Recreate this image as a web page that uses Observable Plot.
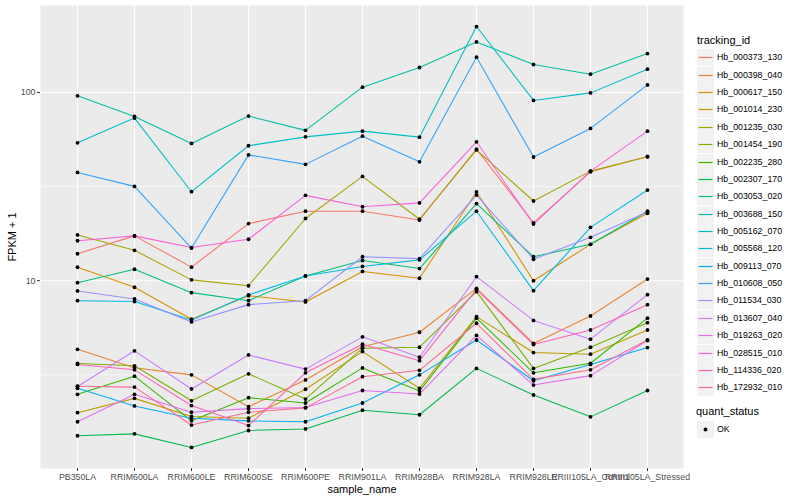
<!DOCTYPE html>
<html>
<head>
<meta charset="utf-8">
<script src="https://cdn.jsdelivr.net/npm/d3@7"></script>
<script src="https://cdn.jsdelivr.net/npm/@observablehq/plot@0.6"></script>
<style>
  body { margin: 0; background: #fff; font-family: "Liberation Sans", Arial, sans-serif; }
  #wrap { position: relative; width: 800px; height: 500px; }
  .lg { position: absolute; white-space: nowrap; color: #000; }
  .lgt { font-size: 11px; }
  .lgl { font-size: 8.8px; }
  .key { position: absolute; width: 17px; height: 17px; display: block; }
</style>
</head>
<body>
<div id="wrap"></div>
<script>
// ---- categories ----
const samples = ["PB350LA", "RRIM600LA", "RRIM600LE", "RRIM600SE", "RRIM600PE", "RRIM901LA",
  "RRIM928BA", "RRIM928LA", "RRIM928LE", "RRIII105LA_Control", "RRIII105LA_Stressed"];
const trackingIds = ["Hb_000373_130", "Hb_000398_040", "Hb_000617_150", "Hb_001014_230", "Hb_001235_030",
  "Hb_001454_190", "Hb_002235_280", "Hb_002307_170", "Hb_003053_020", "Hb_003688_150",
  "Hb_005162_070", "Hb_005568_120", "Hb_009113_070", "Hb_010608_050", "Hb_011534_030",
  "Hb_013607_040", "Hb_019263_020", "Hb_028515_010", "Hb_114336_020", "Hb_172932_010"];
const seriesColors = ["#F8766D", "#EA8331", "#D89000", "#C09B00", "#A3A500", "#7CAE00", "#39B600", "#00BB4E",
  "#00BF7D", "#00C1A3", "#00BFC4", "#00BAE0", "#00B0F6", "#35A2FF", "#9590FF", "#C77CFF", "#E76BF3",
  "#FA62DB", "#FF62BC", "#FF6C91"];
const quantStatus = ["OK"];
const yTicks = [10, 100];

// ---- FPKM + 1 values per tracking_id (in sample order) ----
const hb000373_130 = [13.9, 17.3, 11.8, 20.1, 23.4, 23.4, 21.0, 50.0, 20.3, 37.9, 45.7];
const hb000398_040 = [4.32, 3.45, 3.16, 2.14, 2.97, 4.46, 5.32, 9.11, 4.64, 6.49, 10.2];
const hb000617_150 = [11.8, 9.23, 6.24, 8.32, 7.71, 11.2, 10.3, 29.6, 10.0, 15.6, 22.8];
const hb001014_230 = [1.99, 2.37, 1.90, 1.86, 2.65, 4.20, 2.68, 6.44, 4.15, 4.07, 5.47];
const hb001235_030 = [17.5, 14.5, 10.1, 9.4, 21.4, 35.8, 21.2, 49.5, 26.5, 38.2, 45.5];
const hb001454_190 = [3.63, 3.53, 2.30, 3.20, 2.35, 4.38, 4.43, 8.74, 3.42, 4.43, 5.98];
const hb002235_280 = [2.49, 3.11, 1.80, 2.39, 2.24, 3.44, 2.59, 6.32, 3.24, 3.64, 6.32];
const hb002307_170 = [1.50, 1.535, 1.30, 1.60, 1.63, 2.05, 1.94, 3.42, 2.47, 1.89, 2.61];
const hb003053_020 = [9.76, 11.5, 8.64, 7.83, 10.6, 12.8, 11.6, 25.7, 13.4, 15.6, 23.4];
const hb003688_150 = [96.0, 74.6, 53.6, 74.9, 62.9, 106.7, 135.7, 185.6, 140.8, 125.1, 161.0];
const hb005162_070 = [54.0, 73.1, 29.7, 52.1, 58.1, 62.3, 57.9, 224.0, 90.7, 99.5, 133.0];
const hb005568_120 = [7.83, 7.75, 6.19, 8.40, 10.6, 11.9, 12.9, 23.4, 8.85, 19.2, 30.3];
const hb009113_070 = [2.68, 2.16, 1.86, 1.80, 1.78, 2.24, 3.16, 4.84, 2.94, 3.59, 4.41];
const hb010608_050 = [37.6, 31.7, 14.9, 46.6, 41.5, 58.6, 42.8, 154.0, 45.4, 64.4, 109.7];
const hb011534_030 = [8.82, 8.00, 6.04, 7.46, 7.83, 13.4, 13.1, 28.5, 13.0, 17.0, 23.2];
const hb013607_040 = [2.74, 4.24, 2.66, 4.03, 3.39, 5.03, 3.92, 10.5, 6.15, 4.89, 8.43];
const hb019263_020 = [1.78, 2.49, 2.00, 2.09, 2.12, 2.61, 2.50, 5.12, 2.79, 3.13, 4.81];
const hb028515_010 = [16.3, 17.3, 15.0, 16.6, 28.4, 24.7, 25.9, 54.7, 20.0, 38.2, 62.3];
const hb114336_020 = [3.59, 3.36, 2.17, 1.70, 3.24, 4.60, 3.76, 9.00, 4.58, 5.47, 7.46];
const hb172932_010 = [2.75, 2.72, 1.71, 2.00, 2.11, 3.09, 3.34, 5.94, 2.99, 3.36, 4.84];

const seriesValues = [hb000373_130, hb000398_040, hb000617_150, hb001014_230, hb001235_030,
  hb001454_190, hb002235_280, hb002307_170, hb003053_020, hb003688_150,
  hb005162_070, hb005568_120, hb009113_070, hb010608_050, hb011534_030,
  hb013607_040, hb019263_020, hb028515_010, hb114336_020, hb172932_010];

const rows = [];
trackingIds.forEach((id, k) => seriesValues[k].forEach((v, i) =>
  rows.push({tracking_id: id, sample_name: samples[i], fpkm: v, quant_status: quantStatus[0]})));

// ggplot-like 5% expansion on log scale
const [lo, hi] = d3.extent(rows, d => Math.log10(d.fpkm));
const pad = (hi - lo) * 0.05;
const yDomain = [Math.pow(10, lo - pad), Math.pow(10, hi + pad)];

const font = "Liberation Sans, Arial, sans-serif";
const chart = Plot.plot({
  width: 800, height: 500,
  marginLeft: 40, marginRight: 117, marginTop: 5, marginBottom: 32,
  style: {fontFamily: font, background: "transparent"},
  x: {type: "point", domain: samples, padding: 0.6},
  y: {type: "log", domain: yDomain},
  color: {domain: trackingIds, range: seriesColors},
  marks: [
    Plot.frame({fill: "#EBEBEB", stroke: null}),
    Plot.gridY(yTicks.map(t => t / Math.sqrt(10)).concat([Math.sqrt(10) * 100]), {stroke: "#fff", strokeOpacity: 1, strokeWidth: 0.55}),
    Plot.gridY(yTicks, {stroke: "#fff", strokeOpacity: 1, strokeWidth: 1.1}),
    Plot.gridX({stroke: "#fff", strokeOpacity: 1, strokeWidth: 1.1}),
    Plot.axisY(yTicks, {tickFormat: d => String(d), tickSize: 3, tickPadding: 2, stroke: "#333", fill: "#4D4D4D",
      fontSize: 8.8, label: "FPKM + 1", labelAnchor: "center", labelOffset: 32, labelArrow: "none"}),
    Plot.axisX({tickSize: 3, tickPadding: 2, stroke: "#333", fill: "#4D4D4D", fontSize: 8.8,
      label: "sample_name", labelAnchor: "center", labelOffset: 24, labelArrow: "none"}),
    Plot.line(rows, {x: "sample_name", y: "fpkm", z: "tracking_id", stroke: "tracking_id", strokeWidth: 1.07}),
    Plot.dot(rows, {x: "sample_name", y: "fpkm", fill: "#000", r: 1.9})
  ]
});

// axis titles in black, 11px
d3.select(chart).selectAll('[aria-label="y-axis label"] text, [aria-label="x-axis label"] text')
  .attr("fill", "#000").style("font-size", "11px");

const wrap = document.getElementById("wrap");
wrap.appendChild(chart);
chart.style.position = "absolute";
chart.style.left = "0px";
chart.style.top = "0px";

// ---- legend (HTML, to the right of the panel) ----
function addDiv(cls, left, top, html) {
  const d = document.createElement("div");
  d.className = cls;
  d.style.left = left + "px";
  d.style.top = top + "px";
  d.innerHTML = html;
  wrap.appendChild(d);
  return d;
}
function addKey(left, top, inner) {
  const s = d3.create("svg").attr("class", "key").attr("width", 17).attr("height", 17)
    .style("left", left + "px").style("top", top + "px");
  s.append("rect").attr("width", 17).attr("height", 17).attr("fill", "#F2F2F2");
  inner(s);
  wrap.appendChild(s.node());
}
const lgLeft = 697, firstCenter = 57.3, step = 17.37;
addDiv("lg lgt", lgLeft, 40.7 - 7, "tracking_id");
trackingIds.forEach((id, i) => {
  const c = Math.round(firstCenter + i * step);
  addKey(lgLeft, c - 8.5, s => s.append("line").attr("x1", 1.5).attr("x2", 15.5).attr("y1", 8.5).attr("y2", 8.5)
    .attr("stroke", seriesColors[i]).attr("stroke-width", 1.2));
  addDiv("lg lgl", lgLeft + 20, c - 5.5, id);
});
addDiv("lg lgt", lgLeft - 1, 412.3 - 7, "quant_status");
quantStatus.forEach((q, i) => {
  const c = 429 + i * step;
  addKey(lgLeft, c - 8.5, s => s.append("circle").attr("cx", 8.5).attr("cy", 8.5).attr("r", 1.9).attr("fill", "#000"));
  addDiv("lg lgl", lgLeft + 20, c - 5.5, q);
});
</script>
</body>
</html>
